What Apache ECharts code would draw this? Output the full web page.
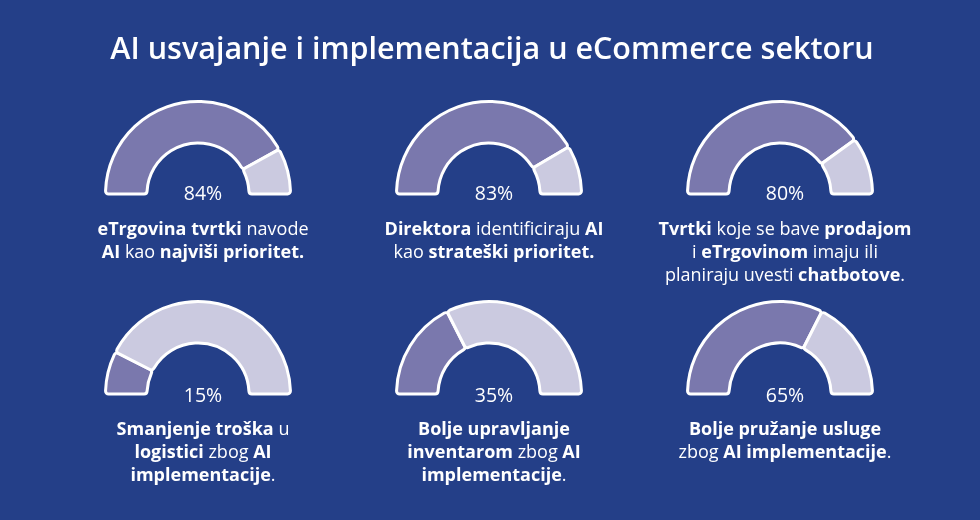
<!DOCTYPE html>
<html><head><meta charset="utf-8">
<script src="https://cdn.jsdelivr.net/npm/echarts@6/dist/echarts.min.js"></script>
<style>html,body{margin:0;padding:0;background:#243f88}#c{width:980px;height:520px}</style>
</head><body><div id="c"></div>
<script>
const chartTitle = 'AI usvajanje i implementacija u eCommerce sektoru';
const values = [84, 83, 80, 15, 35, 65];
const percentLabels = ['84%', '83%', '80%', '15%', '35%', '65%'];
const descriptions = [
  '{b|eTrgovina tvrtki} navode\n{b|AI} kao {b|najviši prioritet.}',
  '{b|Direktora} identificiraju {b|AI}\nkao {b|strateški prioritet.}',
  '{b|Tvrtki} koje se bave {b|prodajom}\ni {b|eTrgovinom} imaju ili\nplaniraju uvesti {b|chatbotove}.',
  '{b|Smanjenje troška} u\n{b|logistici} zbog {b|AI}\n{b|implementacije}.',
  '{b|Bolje upravljanje}\n{b|inventarom} zbog {b|AI}\n{b|implementacije}.',
  '{b|Bolje pružanje usluge}\nzbog {b|AI implementacije}.'
];

const BG = '#243f88', FILL = '#7a78ad', REST = '#cbcae0';
const FONT = '"Open Sans", Lato, sans-serif';
const centersX = [198, 489, 780];
const centersY = [194, 394];
const pctOffset = [-15, -13];
const descOffset = [19, 19];

const titles = [{
  text: chartTitle, left: 487, top: 30, textAlign: 'center',
  textStyle: { color: '#fff', fontSize: 30.5, fontWeight: 600, fontFamily: FONT }
}];
const series = [];
values.forEach((v, i) => {
  const row = Math.floor(i / 3);
  const cx = centersX[i % 3], cy = centersY[row];
  series.push({
    type: 'pie', center: [cx, cy], radius: [51, 92.5],
    startAngle: 180, endAngle: 0, clockwise: true, silent: true,
    label: { show: false }, labelLine: { show: false },
    itemStyle: { borderColor: '#fff', borderWidth: 3, borderRadius: 3 },
    data: [
      { value: v, itemStyle: { color: FILL } },
      { value: 100 - v, itemStyle: { color: REST } }
    ]
  });
  titles.push({
    text: percentLabels[i], left: cx, top: cy + pctOffset[row], textAlign: 'center',
    textStyle: { color: '#fff', fontSize: 19.5, fontWeight: 400, fontFamily: FONT }
  });
  titles.push({
    text: descriptions[i], left: cx, top: cy + descOffset[row], textAlign: 'center',
    textStyle: {
      color: '#fff', fontSize: 18, fontWeight: 400, fontFamily: FONT, lineHeight: 23, align: 'center',
      rich: { b: { color: '#fff', fontSize: 18, fontWeight: 'bold', fontFamily: FONT, lineHeight: 23 } }
    }
  });
});

const chart = echarts.init(document.getElementById('c'), null, { renderer: 'canvas' });
chart.setOption({ backgroundColor: BG, animation: false, title: titles, series: series });
</script></body></html>
